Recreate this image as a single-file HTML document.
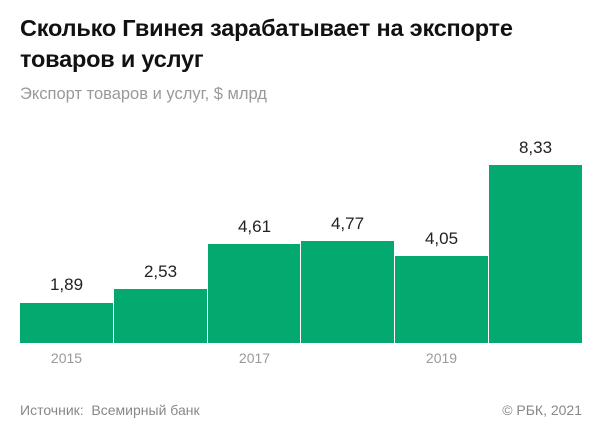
<!DOCTYPE html>
<html><head><meta charset="utf-8"><style>
body{margin:0;width:600px;height:440px;background:#fff;font-family:"Liberation Sans",sans-serif;position:relative;overflow:hidden}
.t{position:absolute;left:20px;top:13px;font-size:23.5px;font-weight:bold;color:#111;line-height:31px;letter-spacing:-0.2px}
.s{position:absolute;left:20px;top:85px;font-size:16.5px;color:#999}
.b{position:absolute;background:#04a970;bottom:97px}
.v{position:absolute;width:93px;text-align:center;font-size:17px;color:#222}
.x{position:absolute;top:350px;width:93px;text-align:center;font-size:14px;color:#999}
.f{position:absolute;top:402px;font-size:14px;color:#888}
</style></head><body>
<div class="t">Сколько Гвинея зарабатывает на экспорте<br>товаров и услуг</div>
<div class="s">Экспорт товаров и услуг, $ млрд</div>
<div class="b" style="left:20px;width:93px;height:40px"></div>
<div class="b" style="left:114px;width:93px;height:54px"></div>
<div class="b" style="left:208px;width:92px;height:99px"></div>
<div class="b" style="left:301px;width:93px;height:102px"></div>
<div class="b" style="left:395px;width:93px;height:87px"></div>
<div class="b" style="left:489px;width:93px;height:178px"></div>
<div class="v" style="left:20px;top:275px">1,89</div>
<div class="v" style="left:114px;top:262px">2,53</div>
<div class="v" style="left:208px;top:217px">4,61</div>
<div class="v" style="left:301px;top:214px">4,77</div>
<div class="v" style="left:395px;top:229px">4,05</div>
<div class="v" style="left:489px;top:138px">8,33</div>
<div class="x" style="left:20px">2015</div>
<div class="x" style="left:208px">2017</div>
<div class="x" style="left:395px">2019</div>
<div class="f" style="left:20px">Источник:&nbsp;&nbsp;Всемирный банк</div>
<div class="f" style="right:18px">© РБК, 2021</div>
</body></html>
